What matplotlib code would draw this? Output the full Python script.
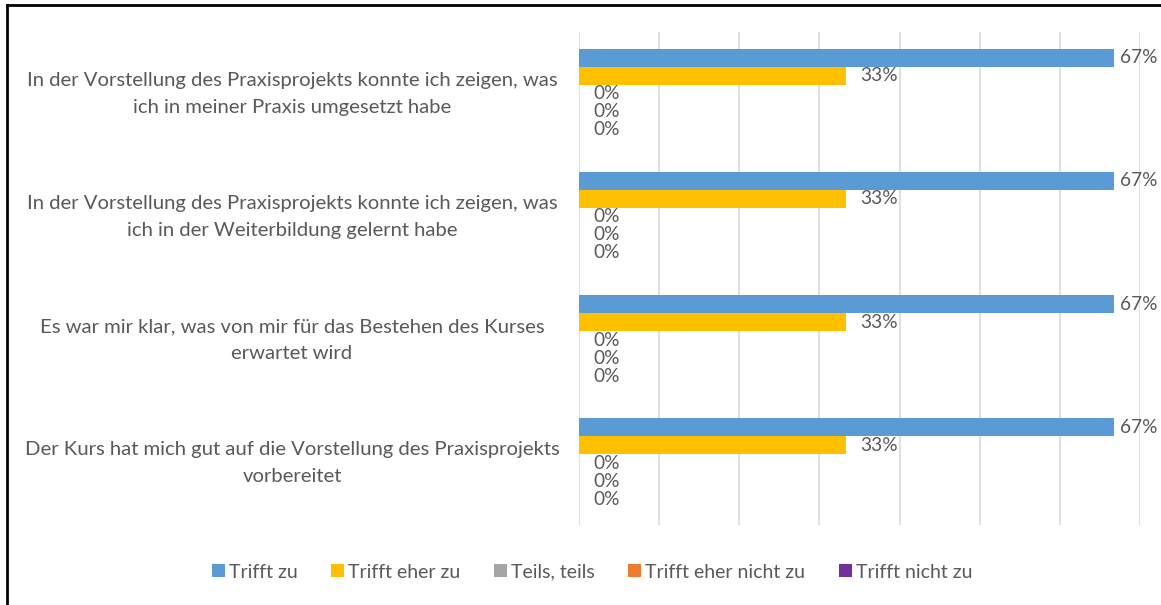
import numpy as np
import matplotlib
matplotlib.use('Agg')
import matplotlib.pyplot as plt
import matplotlib.transforms as mtransforms
from matplotlib.lines import Line2D

plt.rcParams['font.family'] = ['Lato', 'DejaVu Sans']

# data
questions = [
    'In der Vorstellung des Praxisprojekts konnte ich zeigen, was\nich in meiner Praxis umgesetzt habe',
    'In der Vorstellung des Praxisprojekts konnte ich zeigen, was\nich in der Weiterbildung gelernt habe',
    'Es war mir klar, was von mir für das Bestehen des Kurses\nerwartet wird',
    'Der Kurs hat mich gut auf die Vorstellung des Praxisprojekts\nvorbereitet',
]
series = ['Trifft zu', 'Trifft eher zu', 'Teils, teils', 'Trifft eher nicht zu', 'Trifft nicht zu']
trifft_zu = [0.667, 0.667, 0.667, 0.667]
eher_zu = [0.333, 0.333, 0.333, 0.333]
teils = [0.0, 0.0, 0.0, 0.0]
eher_nicht = [0.0, 0.0, 0.0, 0.0]
nicht_zu = [0.0, 0.0, 0.0, 0.0]
colors = ['#5B9BD5', '#FFC000', '#A5A5A5', '#ED7D31', '#7030A0']

values = [trifft_zu, eher_zu, teils, eher_nicht, nicht_zu]
txt = '#595959'

fig = plt.figure(figsize=(11.61, 6.05), dpi=100)
ax = fig.add_axes([579 / 1161, 1 - 525 / 605, (1140 - 579) / 1161, (525 - 32) / 605])

y = np.arange(len(questions))
h = 0.146
handles = []
for i, (name, vals, c) in enumerate(zip(series, values, colors)):
    pos = y + (i - 2) * h
    b = ax.barh(pos, vals, height=h, color=c, label=name, zorder=3)
    handles.append(b)
    for p, v in zip(pos, vals):
        off = 6 if v > 0.6 else 14
        ax.annotate(f'{v:.0%}', (v, p), xytext=(off, 0), textcoords='offset pixels',
                    ha='left', va='center', fontsize=13.8, color=txt, zorder=4)

ax.set_xlim(0, 0.7)
ax.set_ylim(len(questions) - 0.5, -0.5)
ax.set_xticks(np.arange(0, 0.71, 0.1))
ax.set_xticklabels([])
ax.set_yticks([])
ax.tick_params(length=0)
ax.grid(axis='x', color='#D9D9D9', lw=1.2, zorder=0)
for s in ax.spines.values():
    s.set_visible(False)

# category labels, centred as in the original
trans = mtransforms.blended_transform_factory(fig.transFigure, ax.transData)
for yy, q in zip(y, questions):
    ax.text(292 / 1161, yy, q, transform=trans, ha='center', va='center',
            multialignment='center', fontsize=14.6, color=txt, linespacing=1.7)

fig.legend(handles=handles, labels=series, loc='center', ncol=5, frameon=False,
           bbox_to_anchor=(592 / 1161, 1 - 572 / 605), fontsize=14,
           handlelength=0.65, handleheight=0.65, handletextpad=0.2,
           columnspacing=1.75, labelcolor=txt)

# chart border (top and left visible)
fig.add_artist(Line2D([7 / 1161, 7 / 1161], [0, 1 - 5 / 605], transform=fig.transFigure,
                      color='black', lw=2))
fig.add_artist(Line2D([7 / 1161, 1], [1 - 5 / 605, 1 - 5 / 605], transform=fig.transFigure,
                      color='black', lw=2))

fig.savefig('out.png', dpi=100)
